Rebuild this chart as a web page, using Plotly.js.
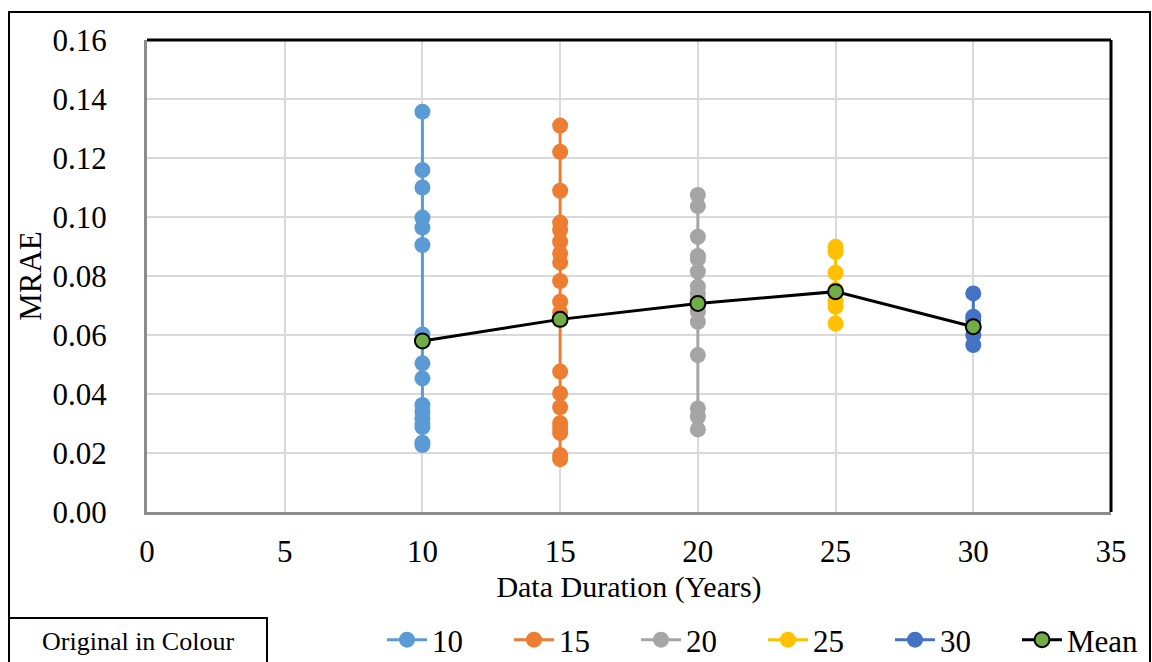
<!DOCTYPE html>
<html>
<head>
<meta charset="utf-8">
<script src="https://cdn.plot.ly/plotly-3.0.1.min.js"></script>
<style>
  html, body { margin: 0; padding: 0; background: #ffffff; }
  #chart { width: 1152px; height: 662px; }
</style>
</head>
<body>
<div id="chart"></div>
<script>
// ---- data ----
var durations = [10, 15, 20, 25, 30];
var seriesNames = ["10", "15", "20", "25", "30"];
var mrae10 = [0.1357, 0.1159, 0.1100, 0.0998, 0.0964, 0.0905, 0.0602, 0.0504, 0.0453, 0.0363, 0.0340, 0.0318, 0.0298, 0.0288, 0.0235, 0.0227];
var mrae15 = [0.1310, 0.1221, 0.1089, 0.0981, 0.0956, 0.0916, 0.0877, 0.0846, 0.0783, 0.0713, 0.0677, 0.0476, 0.0402, 0.0355, 0.0301, 0.0285, 0.0268, 0.0193, 0.0179];
var mrae20 = [0.1075, 0.1037, 0.0933, 0.0868, 0.0857, 0.0815, 0.0764, 0.0740, 0.0721, 0.0679, 0.0645, 0.0532, 0.0351, 0.0323, 0.0280];
var mrae25 = [0.0899, 0.0882, 0.0811, 0.0753, 0.0715, 0.0696, 0.0639];
var mrae30 = [0.0741, 0.0662, 0.0650, 0.0600, 0.0566];
var meanValues = [0.0580, 0.0653, 0.0707, 0.0747, 0.0628];
var xTickVals = [0, 5, 10, 15, 20, 25, 30, 35];
var yTickVals = [0, 0.02, 0.04, 0.06, 0.08, 0.10, 0.12, 0.14, 0.16];
var xTitle = "Data Duration (Years)";
var yTitle = "MRAE";
var noteText = "Original in Colour";

var colors = ["#5b9bd5", "#ed7d31", "#a5a5a5", "#ffc000", "#4472c4"];
var allSeries = [mrae10, mrae15, mrae20, mrae25, mrae30];
var FONT = "'Liberation Serif', 'Times New Roman', serif";

var traces = [];
for (var i = 0; i < durations.length; i++) {
  var xs = allSeries[i].map(function () { return durations[i]; });
  traces.push({
    type: "scatter",
    mode: "lines+markers",
    name: seriesNames[i],
    x: xs,
    y: allSeries[i],
    line: { color: colors[i], width: 3 },
    marker: { color: colors[i], size: 16 },
    cliponaxis: false
  });
}
traces.push({
  type: "scatter",
  mode: "lines+markers",
  name: "Mean",
  x: durations,
  y: meanValues,
  line: { color: "#000000", width: 3 },
  marker: { color: "#70ad47", size: 15, line: { color: "#000000", width: 2 } },
  cliponaxis: false
});

var L = 147, R = 1111, T = 40, B = 512, W = 1152, H = 662;
function px(x) { return (x - L) / (R - L); }
function py(y) { return (B - y) / (B - T); }

var layout = {
  width: W, height: H,
  margin: { l: L, r: W - R, t: T, b: H - B, autoexpand: false },
  paper_bgcolor: "#ffffff",
  plot_bgcolor: "#ffffff",
  font: { family: FONT, size: 30, color: "#000000" },
  showlegend: true,
  legend: {
    orientation: "h",
    xref: "container", yref: "container",
    x: 382 / W, xanchor: "left",
    y: (H - 640) / H, yanchor: "middle",
    font: { family: FONT, size: 31, color: "#000000" },
    itemwidth: 40,
    entrywidth: 72, entrywidthmode: "pixels",
    bgcolor: "rgba(0,0,0,0)",
    traceorder: "normal"
  },
  xaxis: {
    range: [0, 35],
    tickvals: xTickVals,
    ticktext: xTickVals.map(function (v) { return String(v); }),
    showgrid: true, gridcolor: "#d9d9d9", gridwidth: 2,
    zeroline: false,
    showline: true, linecolor: "#8c8c8c", linewidth: 3,
    ticks: "", ticklabelstandoff: 10,
    tickfont: { family: FONT, size: 31, color: "#000000" },
    title: { text: xTitle, font: { family: FONT, size: 30, color: "#000000" }, standoff: 8 },
    fixedrange: true
  },
  yaxis: {
    range: [0, 0.16],
    tickvals: yTickVals,
    ticktext: yTickVals.map(function (v) { return v.toFixed(2); }),
    showgrid: true, gridcolor: "#d9d9d9", gridwidth: 2,
    zeroline: false,
    showline: true, linecolor: "#8c8c8c", linewidth: 3,
    ticks: "", ticklabelstandoff: 31,
    tickfont: { family: FONT, size: 31, color: "#000000" },
    title: { text: yTitle, font: { family: FONT, size: 31, color: "#000000" }, standoff: 2 },
    fixedrange: true
  },
  shapes: [
    { type: "line", xref: "paper", yref: "paper", x0: 0, x1: 1, y0: 1, y1: 1, line: { color: "#000000", width: 3 } },
    { type: "line", xref: "paper", yref: "paper", x0: 1, x1: 1, y0: 0, y1: 1, line: { color: "#000000", width: 3 } },
    { type: "rect", xref: "paper", yref: "paper", x0: px(9), x1: px(1150), y0: py(667), y1: py(12), line: { color: "#000000", width: 2 }, fillcolor: "rgba(0,0,0,0)", layer: "above" },
    { type: "rect", xref: "paper", yref: "paper", x0: px(9), x1: px(267), y0: py(667), y1: py(618), line: { color: "#000000", width: 2 }, fillcolor: "rgba(0,0,0,0)", layer: "above" }
  ],
  annotations: [
    { xref: "paper", yref: "paper", x: px(138), y: py(641), xanchor: "center", yanchor: "middle",
      text: noteText, showarrow: false, font: { family: FONT, size: 26, color: "#000000" } }
  ]
};

Plotly.newPlot("chart", traces, layout, { staticPlot: true, displayModeBar: false });
</script>
</body>
</html>
